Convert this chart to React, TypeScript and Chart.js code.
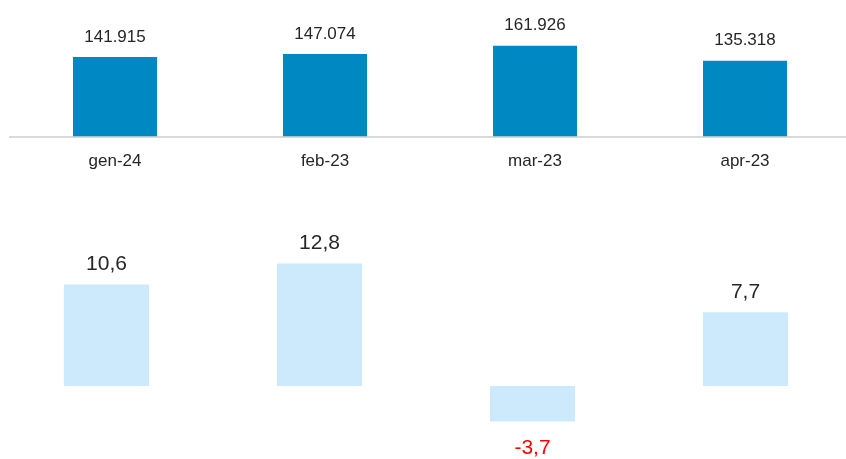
import React, { useEffect, useRef } from "react";
import { Chart, registerables } from "chart.js";

Chart.register(...registerables);

const categories = ["gen-24", "feb-23", "mar-23", "apr-23"];
const volumes = [141915, 147074, 161926, 135318];
const changes = [10.6, 12.8, -3.7, 7.7];

const FONT = "'Liberation Sans', Arial, sans-serif";
const TEXT = "#262626";

const valueLabels = {
  id: "valueLabels",
  afterDatasetsDraw(chart: any, _args: any, opts: any) {
    const ctx = chart.ctx;
    const meta = chart.getDatasetMeta(0);
    const data = chart.data.datasets[0].data as number[];
    ctx.save();
    ctx.font = `${opts.size}px ${FONT}`;
    ctx.textAlign = "center";
    ctx.textBaseline = "middle";
    meta.data.forEach((el: any, i: number) => {
      const v = data[i];
      const neg = v < 0;
      ctx.fillStyle = neg ? "#ff0000" : TEXT;
      const y = neg ? el.y + opts.negOffset : el.y - opts.offset;
      ctx.fillText(opts.format(v), el.x, y);
    });
    ctx.restore();
  },
};

function TopChart() {
  const ref = useRef<HTMLCanvasElement>(null);
  useEffect(() => {
    const chart = new Chart(ref.current!, {
      type: "bar",
      data: {
        labels: categories,
        datasets: [
          {
            data: volumes,
            backgroundColor: "#0088c2",
            barPercentage: 0.4,
            categoryPercentage: 1,
          },
        ],
      },
      options: {
        animation: false,
        responsive: true,
        maintainAspectRatio: false,
        layout: { padding: { left: 10, right: 0, top: 0, bottom: 0 } },
        plugins: {
          legend: { display: false },
          tooltip: { enabled: false },
          valueLabels: {
            size: 17,
            offset: 20,
            negOffset: 20,
            format: (v: number) => v.toLocaleString("it-IT"),
          },
        } as any,
        scales: {
          x: {
            grid: { display: true, drawOnChartArea: false, drawTicks: false },
            border: { display: true, color: "#d9d9d9", width: 2 },
            ticks: { color: TEXT, font: { family: FONT, size: 17 }, padding: 15 },
          },
          y: { display: false, min: 0, max: 243300 },
        },
      },
      plugins: [valueLabels],
    });
    return () => chart.destroy();
  }, []);
  return (
    <div style={{ position: "absolute", left: 0, top: 0, width: 850, height: 187 }}>
      <canvas ref={ref} />
    </div>
  );
}

function BottomChart() {
  const ref = useRef<HTMLCanvasElement>(null);
  useEffect(() => {
    const chart = new Chart(ref.current!, {
      type: "bar",
      data: {
        labels: categories,
        datasets: [
          {
            data: changes,
            backgroundColor: "#cceafc",
            barPercentage: 0.4,
            categoryPercentage: 1,
          },
        ],
      },
      options: {
        animation: false,
        responsive: true,
        maintainAspectRatio: false,
        layout: { padding: 0 },
        plugins: {
          legend: { display: false },
          tooltip: { enabled: false },
          valueLabels: {
            size: 21,
            offset: 20,
            negOffset: 27,
            format: (v: number) => v.toFixed(1).replace(".", ","),
          },
        } as any,
        scales: {
          x: { display: false },
          y: { display: false, min: -7.63, max: 17.35 },
        },
      },
      plugins: [valueLabels],
    });
    return () => chart.destroy();
  }, []);
  return (
    <div style={{ position: "absolute", left: 0, top: 220, width: 852, height: 239 }}>
      <canvas ref={ref} />
    </div>
  );
}

export default function App() {
  return (
    <div
      style={{
        position: "fixed",
        left: 0,
        top: 0,
        width: 846,
        height: 459,
        overflow: "hidden",
        background: "#fff",
      }}
    >
      <TopChart />
      <BottomChart />
    </div>
  );
}
